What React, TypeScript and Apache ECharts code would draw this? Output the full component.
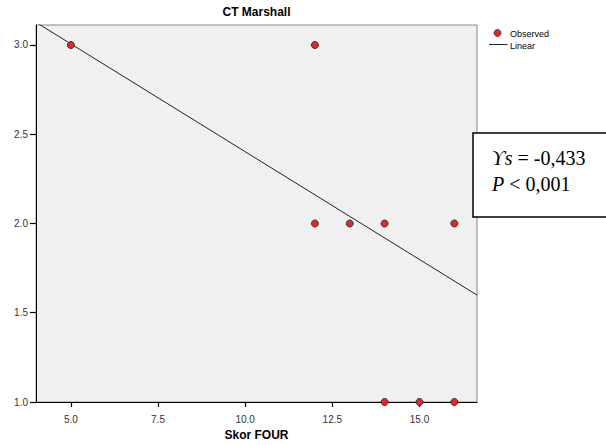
import React, { useEffect, useRef } from "react";
import * as echarts from "echarts";

const titleText = "CT Marshall";
const xName = "Skor FOUR";
const obsX = [5, 12, 12, 13, 14, 16, 14, 15, 16];
const obsY = [3, 3, 2, 2, 2, 2, 1, 1, 1];
const lineX = [4, 16.65];
const lineY = [3.127, 1.599];
const xTicks = [5, 7.5, 10, 12.5, 15];
const yTicks = [1, 1.5, 2, 2.5, 3];
const legendLabels = ["Observed", "Linear"];
const statLine1 = { sym: "ϒs", rest: " = -0,433" };
const statLine2 = { sym: "P", rest: " < 0,001" };

export default function App() {
  const ref = useRef<HTMLDivElement>(null);
  useEffect(() => {
    if (!ref.current) return;
    const chart = echarts.init(ref.current, null, { renderer: "svg" });
    const sans = "Liberation Sans, Arial, sans-serif";
    const serif = "Liberation Serif, Times New Roman, serif";
    chart.setOption({
      animation: false,
      backgroundColor: "#ffffff",
      grid: {
        left: 36,
        top: 25,
        right: 129,
        bottom: 43,
        show: true,
        backgroundColor: "#f0f0f0",
        borderColor: "#888888",
        borderWidth: 1,
        containLabel: false,
        outerBoundsMode: "none",
      },
      xAxis: {
        type: "value",
        min: 4,
        max: 16.65,
        name: xName,
        nameLocation: "middle",
        nameGap: 27,
        nameTextStyle: { fontFamily: sans, fontWeight: "bold", fontSize: 12, color: "#000" },
        axisLine: { show: true, onZero: false, lineStyle: { color: "#000", width: 1 } },
        axisTick: { show: true, inside: false, customValues: xTicks, length: 5, lineStyle: { color: "#000", width: 1.2 } },
        axisLabel: {
          customValues: xTicks,
          formatter: (v: number) => v.toFixed(1),
          fontFamily: sans,
          fontSize: 10,
          color: "#333",
          margin: 12,
        },
        splitLine: { show: false },
      },
      yAxis: {
        type: "value",
        min: 1,
        max: 3.112,
        axisLine: { show: true, onZero: false, lineStyle: { color: "#000", width: 1 } },
        axisTick: { show: true, inside: false, customValues: yTicks, length: 6, lineStyle: { color: "#000", width: 1.2 } },
        axisLabel: {
          customValues: yTicks,
          formatter: (v: number) => v.toFixed(1),
          fontFamily: sans,
          fontSize: 10,
          color: "#333",
          margin: 8,
        },
        splitLine: { show: false },
      },
      series: [
        {
          name: legendLabels[1],
          type: "line",
          data: lineX.map((x, i) => [x, lineY[i]]),
          showSymbol: false,
          symbol: "none",
          clip: true,
          lineStyle: { color: "#222", width: 1 },
          z: 2,
        },
        {
          name: legendLabels[0],
          type: "scatter",
          data: obsX.map((x, i) => [x, obsY[i]]),
          symbolSize: 7,
          itemStyle: { color: "#e8262a", borderColor: "#333", borderWidth: 1, opacity: 1 },
          z: 3,
        },
      ],
      graphic: [
        {
          type: "text",
          x: 256.5,
          y: 12,
          style: {
            text: titleText,
            fontFamily: sans,
            fontWeight: "bold",
            fontSize: 12,
            fill: "#000",
            align: "center",
            verticalAlign: "middle",
          },
        },
        {
          type: "circle",
          shape: { cx: 497.5, cy: 33, r: 3.5 },
          style: { fill: "#e8262a", stroke: "#333", lineWidth: 0.8 },
        },
        {
          type: "text",
          x: 510,
          y: 34,
          style: { text: legendLabels[0], fontFamily: sans, fontSize: 9, fill: "#000", verticalAlign: "middle" },
        },
        {
          type: "line",
          shape: { x1: 489, y1: 44.5, x2: 507.5, y2: 44.5 },
          style: { stroke: "#222", lineWidth: 1 },
        },
        {
          type: "text",
          x: 510,
          y: 46,
          style: { text: legendLabels[1], fontFamily: sans, fontSize: 9, fill: "#000", verticalAlign: "middle" },
        },
        {
          type: "rect",
          shape: { x: 473, y: 133, width: 160, height: 84 },
          style: { fill: "#ffffff", stroke: "#000", lineWidth: 1.5 },
          z: 100,
        },
        {
          type: "text",
          x: 492,
          y: 158,
          z: 101,
          style: {
            text: `{i|${statLine1.sym}}${statLine1.rest}`,
            fontFamily: serif,
            fontSize: 20,
            fill: "#000",
            verticalAlign: "middle",
            rich: { i: { fontFamily: serif, fontStyle: "italic", fontSize: 20, fill: "#000" } },
          },
        },
        {
          type: "text",
          x: 492,
          y: 184,
          z: 101,
          style: {
            text: `{i|${statLine2.sym}}${statLine2.rest}`,
            fontFamily: serif,
            fontSize: 20,
            fill: "#000",
            verticalAlign: "middle",
            rich: { i: { fontFamily: serif, fontStyle: "italic", fontSize: 20, fill: "#000" } },
          },
        },
      ],
    });
    return () => chart.dispose();
  }, []);
  return (
    <div
      ref={ref}
      style={{ position: "fixed", left: 0, top: 0, width: 606, height: 445, background: "#fff" }}
    />
  );
}
